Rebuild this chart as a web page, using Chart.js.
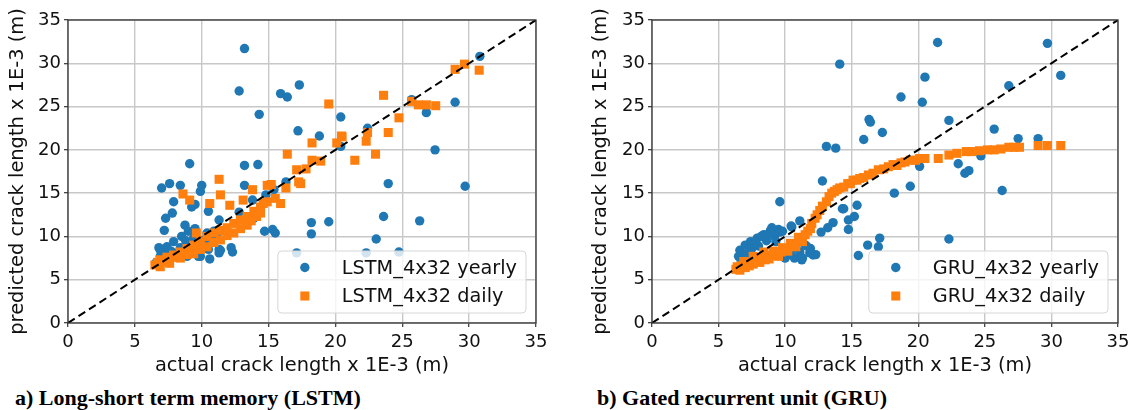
<!DOCTYPE html>
<html><head><meta charset="utf-8">
<script src="https://cdn.jsdelivr.net/npm/chart.js@4.4.0/dist/chart.umd.min.js"></script>
<style>
html,body{margin:0;padding:0;background:#fff;width:1136px;height:410px;overflow:hidden;}
.panel{position:absolute;top:0;}
.cap{position:absolute;top:385.5px;font-family:"Liberation Serif","Times New Roman",serif;font-weight:bold;font-size:22px;line-height:24px;color:#000;white-space:nowrap;}
</style></head>
<body>
<div class="panel" style="left:0;width:570px;height:380px"><canvas id="c1" width="570" height="380"></canvas></div>
<div class="panel" style="left:570px;width:566px;height:380px"><canvas id="c2" width="566" height="380"></canvas></div>
<div class="cap" style="left:15px">a) Long-short term memory (LSTM)</div>
<div class="cap" style="left:597px">b) Gated recurrent unit (GRU)</div>
<script>
// ---------------- data ----------------
const tickValues = [0, 5, 10, 15, 20, 25, 30, 35];
const diagonal = [[0, 0], [35, 35]];
const xTitle = 'actual crack length x 1E-3 (m)';
const yTitle = 'predicted crack length x 1E-3 (m)';
const seriesNamesLSTM = ['LSTM_4x32 yearly', 'LSTM_4x32 daily'];
const seriesNamesGRU = ['GRU_4x32 yearly', 'GRU_4x32 daily'];

const lstmYearly = [
 [13.2,31.7],[12.8,26.8],[15.9,26.5],[16.4,26.1],[17.3,27.5],[14.3,24.1],[17.2,22.2],[18.8,21.6],
 [20.4,23.8],[20.4,20.4],[9.1,18.4],[13.2,18.2],[14.2,18.3],[7.0,15.6],[7.6,16.1],[8.4,15.9],
 [10.0,15.9],[9.9,15.2],[13.2,15.9],[7.9,14.0],[9.5,13.7],[10.5,12.9],[7.8,12.7],[7.3,12.1],
 [7.2,10.7],[8.75,11.3],[9.0,10.6],[9.5,10.9],[8.5,10.0],[11.3,11.9],[11.9,10.6],[10.8,9.6],
 [12.8,12.8],[13.9,12.1],[14.7,10.6],[15.3,10.8],[15.5,10.4],[13.8,14.2],[14.8,14.8],[15.4,15.4],
 [16.3,16.3],[18.2,11.6],[18.2,10.3],[19.5,11.7],[17.1,8.1],[6.8,8.7],[6.9,7.7],[7.4,8.8],
 [7.9,8.1],[8.4,8.7],[8.9,7.7],[9.9,7.7],[10.6,7.4],[10.5,8.5],[11.3,8.5],[11.3,8.1],
 [12.2,8.7],[12.3,8.2],[10.9,10.6],[30.8,30.8],[28.95,25.5],[26.8,24.3],[25.7,25.8],[22.4,22.5],
 [27.45,20.0],[23.95,16.1],[29.7,15.8],[23.6,12.3],[26.3,11.8],[23.05,9.7],[22.3,8.1],[24.75,8.2],
 [7.9,9.4],[6.9,8.4],[7.3,7.9],[8.4,8.4],[9.1,8.0],[9.75,7.7],[11.4,8.4],[11.2,10.4],
 [10.4,10.4],[9.25,13.4],[6.6,7.0],[7.0,7.3],[7.5,7.6],[8.0,8.0],[8.6,8.4],[9.3,8.8],
 [9.6,9.3],[10.2,9.6],[10.0,8.9],[7.7,8.3],[8.2,7.6],[9.4,9.8],[8.8,9.5]
];
const lstmDaily = [
 [19.5,25.3],[20.5,21.5],[20.1,20.8],[18.25,20.8],[16.4,19.5],[18.25,18.8],[18.9,18.7],[17.1,17.7],
 [17.8,17.8],[17.25,16.3],[17.4,16.1],[21.45,18.8],[11.3,16.6],[8.6,14.9],[9.1,14.2],[10.6,13.8],
 [11.4,14.8],[12.1,13.6],[13.1,14.2],[13.8,15.4],[14.9,15.9],[15.2,16.0],[15.5,14.4],[15.9,13.8],
 [16.3,15.6],[14.6,13.8],[14.4,12.7],[9.6,10.4],[23.6,26.3],[28.95,29.3],[29.65,29.9],[30.75,29.2],
 [25.7,25.6],[26.2,25.2],[26.8,25.2],[27.5,25.1],[24.75,23.7],[22.4,22.0],[22.3,21.0],[23.95,22.0],
 [20.45,21.6],[23.0,19.5],
 [6.5,6.7],[6.9,7.3],[7.4,7.6],[7.9,7.85],[8.4,8.2],[8.9,8.6],[9.4,9.0],[9.9,9.4],[10.4,10.0],
 [10.9,10.4],[11.4,10.7],[11.9,11.0],[12.4,11.5],[12.9,11.9],[13.4,12.3],[13.9,12.9],[14.4,13.4],
 [14.9,14.0],[6.9,6.5],[7.6,6.9],[8.4,7.5],[9.4,8.0],[10.4,8.8],[11.4,9.6],[12.4,10.4],[13.4,11.3],
 [14.1,12.3],[6.7,7.0],[7.2,7.1],[8.1,7.6],[8.9,7.9],[9.9,8.5],[10.9,9.3],[11.9,10.1],[12.9,10.9],
 [13.7,11.8]
];
const gruYearly = [
 [14.1,29.9],[18.7,26.1],[16.3,23.5],[15.9,21.2],[17.3,22.0],[13.1,20.4],[13.8,20.2],[16.4,23.2],
 [12.8,16.4],[9.6,14.0],[18.2,15.0],[19.4,15.8],[14.3,13.2],[15.4,13.6],[15.2,12.3],[14.75,11.9],
 [14.75,10.8],[13.6,11.6],[13.2,11.0],[12.7,10.5],[11.1,11.8],[10.5,11.1],[17.1,9.8],[17.0,8.8],
 [16.2,9.0],[15.5,7.8],[18.3,6.4],[21.45,32.4],[29.7,32.3],[30.7,28.6],[20.5,28.4],[20.3,25.5],
 [26.8,27.4],[22.3,23.4],[25.7,22.4],[27.5,21.3],[29.0,21.3],[24.7,19.3],[23.0,18.4],[20.1,18.1],
 [23.8,17.6],[23.5,17.3],[26.3,15.3],[22.3,9.7],
 [6.5,7.7],[6.6,8.4],[6.7,7.2],[7.0,9.0],[7.1,8.0],[7.4,9.4],[7.5,8.6],[7.9,9.8],[8.0,8.9],
 [8.4,10.2],[8.6,9.5],[8.9,10.7],[9.2,10.0],[9.5,10.8],[9.6,10.5],[9.8,10.6],[9.3,9.4],[8.2,10.0],
 [7.7,9.3],[10.2,7.85],[10.7,7.5],[11.1,8.2],[11.25,7.3],[11.5,9.0],[11.9,8.6],[12.1,7.85],
 [12.3,7.9],[11.6,8.9],[11.85,8.1],[10.0,7.5],[10.8,8.7],[11.3,7.5],[10.4,8.0],[8.8,10.3],[9.0,11.0],
 [10.45,11.2],[14.4,13.2]
];
const gruDaily = [
 [6.3,6.2],[6.4,6.5],[6.5,6.3],[6.6,6.1],[6.7,6.6],[6.9,7.1],[7.0,6.4],[7.1,6.7],[7.3,6.6],
 [7.4,7.0],[7.6,7.7],[7.6,6.8],[7.9,7.1],[8.1,7.0],[8.2,7.5],[8.4,8.2],[8.5,7.3],[8.6,7.5],
 [8.8,7.4],[9.0,7.8],[9.1,8.3],[9.4,8.0],[9.5,7.7],[9.7,8.2],[9.8,8.7],[10.0,8.6],[10.2,8.3],
 [10.4,9.2],[10.6,9.0],[10.8,8.8],[11.0,9.9],[11.1,9.6],[11.3,9.4],[11.5,10.2],[11.7,10.6],
 [11.9,10.9],[12.0,11.5],[12.25,12.1],[12.4,12.5],[12.6,13.0],[12.8,13.5],[13.1,14.0],[13.3,14.6],
 [13.5,15.0],[13.7,15.2],[13.9,15.4],[14.1,15.6],[14.4,15.7],[14.7,16.1],[14.9,16.1],[15.1,16.5],
 [15.4,16.5],[15.6,16.7],[15.9,16.8],[16.25,17.1],[16.6,17.3],[17.0,17.7],[17.4,17.8],[17.75,18.05],
 [18.1,18.3],[18.4,18.2],[18.7,18.5],[19.0,18.6],[19.4,18.8],[19.8,18.8],[20.1,19.0],[20.5,19.0],
 [21.5,19.0],[22.3,19.4],[22.9,19.6],[23.6,19.8],[24.0,19.8],[24.6,19.9],[25.2,20.0],[25.7,20.0],
 [26.2,20.1],[26.8,20.3],[27.2,20.3],[27.6,20.3],[29.0,20.5],[29.7,20.5],[30.7,20.5]
];

// ---------------- styling ----------------
const BLUE = '#1f77b4', ORANGE = '#ff7f0e';
const FONT = 'DejaVu Sans';
const toXY = arr => arr.map(p => ({x: p[0], y: p[1]}));

const frame = {
  id: 'frame',
  afterDatasetsDraw(chart) {
    const a = chart.chartArea, ctx = chart.ctx;
    ctx.save();
    ctx.strokeStyle = '#333';
    ctx.lineWidth = 1.3;
    ctx.strokeRect(a.left, a.top, a.right - a.left, a.bottom - a.top);
    ctx.restore();
  }
};

function drawBoxLegend(chart, sets) {
  const a = chart.chartArea, ctx = chart.ctx;
  ctx.save();
  ctx.font = '19.3px "' + FONT + '"';
  const tw = Math.max(...sets.map(d => ctx.measureText(d.label).width));
  const w = 64 + tw + 9, h = 62;
  const right = a.right - 10, bottom = a.bottom - 10;
  const left = right - w, top = bottom - h;
  ctx.beginPath();
  if (ctx.roundRect) ctx.roundRect(left, top, w, h, 4); else ctx.rect(left, top, w, h);
  ctx.fillStyle = 'rgba(255,255,255,0.8)';
  ctx.fill();
  ctx.strokeStyle = '#d6d6d6';
  ctx.lineWidth = 1;
  ctx.stroke();
  sets.forEach((d, i) => {
    const cy = top + 16.5 + i * 28.5;
    const mx = left + 27;
    ctx.fillStyle = d.pointBackgroundColor;
    if (d.pointStyle === 'rect') {
      const s = d.pointRadius * Math.SQRT1_2;
      ctx.fillRect(mx - s, cy - s, 2 * s, 2 * s);
    } else {
      ctx.beginPath();
      ctx.arc(mx, cy, d.pointRadius, 0, Math.PI * 2);
      ctx.fill();
    }
    ctx.fillStyle = '#111';
    ctx.textBaseline = 'alphabetic';
    ctx.textAlign = 'left';
    ctx.fillText(d.label, left + 64, top + 22.5 + i * 28.5);
  });
  ctx.restore();
}

function axis(title, isY, cfg) {
  return {
    type: 'linear', min: 0, max: 35,
    afterBuildTicks: s => { s.ticks = tickValues.map(v => ({value: v})); },
    afterFit: s => { if (isY) s.width = cfg.yWidth; else s.height = 57; },
    grid: {color: '#c8c8c8', lineWidth: 1.4, tickLength: 4, tickColor: '#333', tickWidth: 1.2},
    border: {display: false},
    ticks: {font: {family: FONT, size: 18}, color: '#111', padding: isY ? 3 : 5,
            maxRotation: 0, autoSkip: false},
    title: {display: true, text: title, color: '#111', font: {family: FONT, size: 19.4},
            padding: isY ? {top: cfg.titlePad, bottom: 0} : {top: 0, bottom: 2}}
  };
}

function makeChart(id, yearly, daily, names, cfg) {
  return new Chart(document.getElementById(id), {
    type: 'scatter',
    data: {
      datasets: [
        {type: 'line', label: 'diag', data: toXY(diagonal), borderColor: '#000', borderWidth: 2,
         borderDash: [8, 4.5], pointRadius: 0, fill: false, order: 0},
        {label: names[1], data: toXY(daily), pointStyle: 'rect', pointRadius: 6.4,
         pointBackgroundColor: ORANGE, backgroundColor: ORANGE, pointBorderWidth: 0,
         borderColor: ORANGE, order: 1},
        {label: names[0], data: toXY(yearly), pointStyle: 'circle', pointRadius: 4.7,
         pointBackgroundColor: BLUE, backgroundColor: BLUE, pointBorderWidth: 0,
         borderColor: BLUE, order: 2}
      ]
    },
    options: {
      responsive: false, animation: false, devicePixelRatio: 1, events: [],
      layout: {padding: {left: 0, top: 20, right: cfg.padRight, bottom: 0}},
      plugins: {legend: {display: false}, tooltip: {enabled: false}},
      scales: {x: axis(xTitle, false, cfg), y: axis(yTitle, true, cfg)}
    },
    plugins: [frame, {
      id: 'boxLegend',
      afterDraw(chart) {
        const ds = chart.data.datasets;
        drawBoxLegend(chart, [ds[2], ds[1]]);
      }
    }]
  });
}

makeChart('c1', lstmYearly, lstmDaily, seriesNamesLSTM, {yWidth: 68, padRight: 34, titlePad: 6.5});
makeChart('c2', gruYearly, gruDaily, seriesNamesGRU, {yWidth: 82, padRight: 18, titlePad: 19.4});
</script>
</body></html>
